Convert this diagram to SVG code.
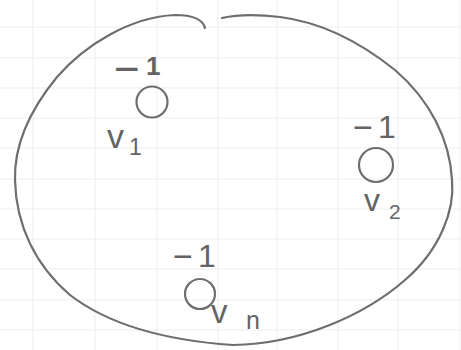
<svg xmlns="http://www.w3.org/2000/svg" width="461" height="350" viewBox="0 0 461 350">
<defs>
<style>
.grid line{stroke:#ededed;stroke-width:1}
.pen{fill:none;stroke:#6e6e6e;stroke-width:2.2;stroke-linecap:round;stroke-linejoin:round}
.lbl{font-family:"Liberation Sans","DejaVu Sans",sans-serif;fill:#646464}
</style>
</defs>
<rect width="461" height="350" fill="#ffffff"/>
<g class="grid" id="grid">
<line x1="0" y1="27" x2="461" y2="27"/><line x1="0" y1="58" x2="461" y2="58"/><line x1="0" y1="88" x2="461" y2="88"/><line x1="0" y1="118" x2="461" y2="118"/><line x1="0" y1="148" x2="461" y2="148"/><line x1="0" y1="179" x2="461" y2="179"/><line x1="0" y1="209" x2="461" y2="209"/><line x1="0" y1="239" x2="461" y2="239"/><line x1="0" y1="269" x2="461" y2="269"/><line x1="0" y1="300" x2="461" y2="300"/><line x1="0" y1="330" x2="461" y2="330"/>
<line x1="33" y1="0" x2="33" y2="350"/><line x1="95" y1="0" x2="95" y2="350"/><line x1="157" y1="0" x2="157" y2="350"/><line x1="218" y1="0" x2="218" y2="350"/><line x1="277" y1="0" x2="277" y2="350"/><line x1="338" y1="0" x2="338" y2="350"/><line x1="398" y1="0" x2="398" y2="350"/><line x1="460" y1="0" x2="460" y2="350"/>
</g>
<g id="region">
<path class="pen" d="M205 28 C203 20,195 15,175 15 C130 17,85 45,57 77 C30 110,14 145,15 180 C16 225,35 265,70 295 C105 322,160 340,233 345 C300 344,365 315,405 280 C440 250,455 210,452 180 C450 140,430 100,395 70 C360 42,320 22,280 17 C255 14,235 15,222 18"/>
</g>
<g id="connectors"></g>
<g id="v1">
<circle class="pen" cx="152" cy="102" r="15.5"/>
<text class="lbl" x="114" y="84" font-size="44">−</text>
<text class="lbl" x="146" y="75" font-size="26" font-weight="bold">1</text>
<text class="lbl" x="107" y="148" font-size="34">v</text>
<text class="lbl" x="129" y="155" font-size="23">1</text>
</g>
<g id="v2">
<circle class="pen" cx="376" cy="165" r="17"/>
<text class="lbl" x="353" y="139" font-size="34">−</text>
<text class="lbl" x="378" y="138" font-size="32">1</text>
<text class="lbl" x="364" y="211" font-size="32">v</text>
<text class="lbl" x="389" y="219" font-size="21">2</text>
</g>
<g id="vn">
<circle class="pen" cx="200" cy="294" r="15"/>
<text class="lbl" x="173" y="268" font-size="34">−</text>
<text class="lbl" x="198" y="267" font-size="32">1</text>
<text class="lbl" x="211" y="323" font-size="33">v</text>
<text class="lbl" x="246" y="329" font-size="25">n</text>
</g>
</svg>
